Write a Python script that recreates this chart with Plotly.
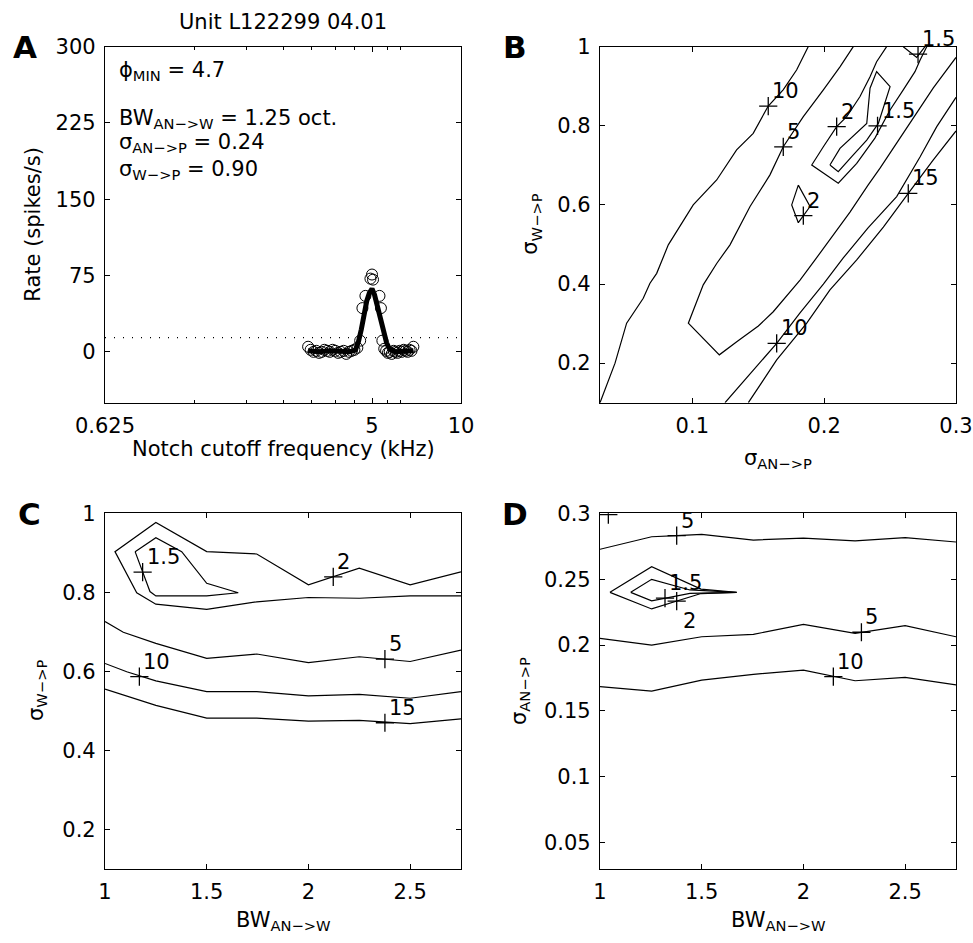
import math
import plotly.graph_objects as go

FONT = "DejaVu Sans"
FS = 21
W, H = 973, 943

# ---------------- Panel A: discharge rate vs notch cutoff frequency ----------------
freq_khz = [3.04, 3.10, 3.17, 3.24, 3.31, 3.38, 3.45, 3.53, 3.60, 3.68, 3.76, 3.84,
            3.92, 4.01, 4.09, 4.18, 4.27, 4.36, 4.46, 4.56, 4.64, 4.75, 4.94, 5.00,
            5.04, 5.30, 5.36, 5.42, 5.50, 5.58, 5.66, 5.74, 5.83, 5.92, 6.01, 6.10,
            6.20, 6.30, 6.40, 6.50, 6.60, 6.70, 6.80, 6.90]
rate_meas = [5, 2, 0, 1, -1, 0, 2, 1, 0, 2, 1, -1,
             0, 1, -2, 0, 1, 2, 4, 11, 43, 55, 72, 76,
             71, 55, 43, 11, 3, 1, -1, 0, -2, 1, 0, -1,
             1, 0, 2, 1, 0, 2, 1, 5]
fit_freq_khz = [3.04, 3.3, 3.6, 3.9, 4.2, 4.4, 4.5, 4.6, 4.7, 4.8, 4.9, 5.0,
                5.1, 5.2, 5.3, 5.4, 5.5, 5.6, 5.7, 5.8, 6.0, 6.3, 6.6, 6.9]
fit_rate = [1, 0, 1, 0, 0, 2, 10, 22, 38, 50, 58, 62,
            56, 46, 35, 24, 15, 9, 4, 2, 0, 0, 1, 1]
spont_rate = 14
freq_range = [0.625, 10]
freq_ticks = [0.625, 5, 10]
freq_minor_ticks = [1.25, 1.875, 2.5, 3.125, 3.75, 4.375, 5.625, 6.25]
rate_ticks = [0, 75, 150, 225, 300]

# ---------------- Panel B: error contours, sigma_AN->P vs sigma_W->P ----------------
b10a_x = [0.030, 0.0414, 0.0502, 0.0628, 0.0679, 0.0730, 0.0818, 0.1007, 0.1185,
          0.1336, 0.1462, 0.1576, 0.1689, 0.1791, 0.1879]
b10a_y = [0.100, 0.200, 0.301, 0.364, 0.402, 0.427, 0.499, 0.600, 0.663,
          0.739, 0.781, 0.850, 0.891, 0.941, 1.000]
b5_x = [0.2221, 0.2120, 0.1994, 0.1842, 0.1690, 0.1589, 0.1438, 0.1286, 0.1185,
        0.1083, 0.0970, 0.1205, 0.1337, 0.1501, 0.1614, 0.1817, 0.1931, 0.2095,
        0.2196, 0.2333, 0.2424, 0.2575, 0.2702, 0.2828, 0.3000]
b5_y = [1.000, 0.949, 0.891, 0.823, 0.747, 0.676, 0.596, 0.499, 0.452,
        0.398, 0.301, 0.221, 0.254, 0.294, 0.330, 0.410, 0.461, 0.537,
        0.582, 0.650, 0.693, 0.769, 0.832, 0.896, 0.973]
b10b_x = [0.1248, 0.1488, 0.1640, 0.1817, 0.1994, 0.2145, 0.2333, 0.2550, 0.2727,
          0.2854, 0.3000]
b10b_y = [0.100, 0.191, 0.250, 0.327, 0.400, 0.466, 0.542, 0.621, 0.721,
          0.798, 0.872]
b15_x = [0.1425, 0.1640, 0.1868, 0.2044, 0.2247, 0.2449, 0.2638, 0.2828, 0.3000]
b15_y = [0.100, 0.208, 0.301, 0.385, 0.461, 0.544, 0.629, 0.714, 0.787]
b2a_x = [0.2474, 0.2398, 0.2348, 0.2272, 0.2171, 0.2095, 0.1994, 0.1906, 0.2107,
         0.2247, 0.2385, 0.2500, 0.2600, 0.2689, 0.2727, 0.2778]
b2a_y = [1.000, 0.962, 0.924, 0.874, 0.823, 0.798, 0.747, 0.701, 0.655,
         0.705, 0.769, 0.840, 0.891, 0.937, 0.966, 1.000]
b2b_x = [0.1804, 0.1754, 0.1804, 0.1893, 0.1804]
b2b_y = [0.650, 0.600, 0.555, 0.596, 0.650]
b15a_x = [0.2044, 0.2107, 0.2209, 0.2323, 0.2411, 0.2500, 0.2398, 0.2348, 0.2323,
          0.2120, 0.2044]
b15a_y = [0.701, 0.684, 0.722, 0.764, 0.806, 0.899, 0.937, 0.895, 0.806,
          0.743, 0.701]
b15b_x = [0.2600, 0.2702, 0.2765]
b15b_y = [1.000, 0.973, 1.000]
b_label_text = ["10", "5", "2", "1.5", "2", "15", "10", "1.5"]
b_label_x = [0.1576, 0.1690, 0.2095, 0.2405, 0.1842, 0.2638, 0.1640, 0.2712]
b_label_y = [0.850, 0.747, 0.798, 0.800, 0.573, 0.629, 0.250, 0.981]

# ---------------- Panel C: error contours, BW_AN->W vs sigma_W->P ----------------
c2_x = [2.75, 2.5, 2.25, 2.0, 1.746, 1.5, 1.25, 1.049, 1.156, 1.25, 1.5, 1.746,
        2.0, 2.25, 2.5, 2.75]
c2_y = [0.852, 0.819, 0.861, 0.819, 0.897, 0.903, 0.977, 0.903, 0.799, 0.770,
        0.757, 0.776, 0.787, 0.785, 0.791, 0.791]
c15_x = [1.148, 1.25, 1.377, 1.5, 1.655, 1.5, 1.25, 1.221, 1.148]
c15_y = [0.903, 0.938, 0.903, 0.823, 0.799, 0.791, 0.791, 0.802, 0.903]
c5_x = [1.0, 1.09, 1.25, 1.5, 1.746, 2.0, 2.25, 2.5, 2.75]
c5_y = [0.726, 0.699, 0.671, 0.633, 0.644, 0.622, 0.637, 0.625, 0.654]
c10_x = [1.0, 1.107, 1.25, 1.5, 1.746, 2.0, 2.25, 2.5, 2.75]
c10_y = [0.620, 0.599, 0.576, 0.549, 0.549, 0.538, 0.542, 0.532, 0.549]
c15b_x = [1.0, 1.25, 1.5, 1.746, 2.0, 2.25, 2.5, 2.75]
c15b_y = [0.555, 0.514, 0.482, 0.482, 0.474, 0.476, 0.468, 0.480]
c_label_text = ["1.5", "2", "5", "10", "15"]
c_label_x = [1.185, 2.122, 2.376, 1.169, 2.376]
c_label_y = [0.851, 0.839, 0.631, 0.587, 0.470]

# ---------------- Panel D: error contours, BW_AN->W vs sigma_AN->P ----------------
d5a_x = [1.0, 1.254, 1.377, 1.5, 1.754, 2.0, 2.254, 2.5, 2.75]
d5a_y = [0.2727, 0.2822, 0.2830, 0.2840, 0.2797, 0.2812, 0.2790, 0.2815, 0.2782]
d5b_x = [1.0, 1.254, 1.5, 1.754, 2.0, 2.254, 2.5, 2.75]
d5b_y = [0.2051, 0.2000, 0.2063, 0.2081, 0.2157, 0.2089, 0.2147, 0.2063]
d10_x = [1.0, 1.254, 1.5, 1.754, 2.0, 2.254, 2.5, 2.75]
d10_y = [0.1684, 0.1651, 0.1734, 0.1778, 0.1810, 0.1729, 0.1755, 0.1697]
d2_x = [1.049, 1.254, 1.4965, 1.672, 1.4965, 1.254, 1.049]
d2_y = [0.2400, 0.2594, 0.2425, 0.2400, 0.2391, 0.2274, 0.2400]
d15_x = [1.151, 1.254, 1.442, 1.672, 1.442, 1.254, 1.151]
d15_y = [0.2400, 0.2499, 0.2418, 0.2400, 0.2392, 0.2336, 0.2400]
d_label_text = ["5", "1.5", "5", "10", ""]
d_label_x = [1.377, 1.3195, 2.285, 2.147, 1.041]
d_label_y = [0.2830, 0.2356, 0.2097, 0.1760, 0.2990]
d_label2_x = [1.377]
d_label2_y = [0.2333]

# ---------------- layout geometry (pixels) ----------------
COL_X = [(105, 461), (600, 956)]
ROW_Y = [(46.7, 402.7), (513.3, 869)]


def px_x(p):
    return p / W


def px_y(p):
    return 1 - p / H


fig = go.Figure()

LINE = dict(color="black", width=1.2)
PLUS = dict(symbol="cross-thin-open", size=13, color="black",
            line=dict(color="black", width=1.3))


def add_lines(xs, ys, ax):
    fig.add_trace(go.Scatter(x=xs, y=ys, mode="lines", line=LINE,
                             xaxis="x" + ax, yaxis="y" + ax, showlegend=False,
                             hoverinfo="skip"))


def add_labels(xs, ys, texts, ax, dx=2, dy=1, anchor_y="bottom"):
    fig.add_trace(go.Scatter(x=xs, y=ys, mode="markers", marker=PLUS,
                             xaxis="x" + ax, yaxis="y" + ax, showlegend=False,
                             hoverinfo="skip"))
    for x, y, t in zip(xs, ys, texts):
        if not t:
            continue
        fig.add_annotation(x=x, y=y, xref="x" + ax, yref="y" + ax, text=t,
                           showarrow=False, xanchor="left", yanchor=anchor_y,
                           xshift=dx, yshift=dy,
                           font=dict(family=FONT, size=FS, color="black"))


# Panel A traces
fig.add_trace(go.Scatter(x=freq_range, y=[spont_rate, spont_rate], mode="lines",
                         line=dict(color="black", width=1.2, dash="1px,8px"),
                         xaxis="x", yaxis="y", showlegend=False, hoverinfo="skip"))
fig.add_trace(go.Scatter(x=freq_khz, y=rate_meas, mode="markers",
                         marker=dict(symbol="circle-open", size=11, color="black",
                                     line=dict(color="black", width=1)),
                         xaxis="x", yaxis="y", showlegend=False))
fig.add_trace(go.Scatter(x=fit_freq_khz, y=fit_rate, mode="lines",
                         line=dict(color="black", width=5),
                         xaxis="x", yaxis="y", showlegend=False))

# Panel B traces
for xs, ys in [(b10a_x, b10a_y), (b5_x, b5_y), (b10b_x, b10b_y), (b15_x, b15_y),
               (b2a_x, b2a_y), (b2b_x, b2b_y), (b15a_x, b15a_y), (b15b_x, b15b_y)]:
    add_lines(xs, ys, "2")
add_labels(b_label_x, b_label_y, b_label_text, "2")

# Panel C traces
for xs, ys in [(c2_x, c2_y), (c15_x, c15_y), (c5_x, c5_y), (c10_x, c10_y),
               (c15b_x, c15b_y)]:
    add_lines(xs, ys, "3")
add_labels(c_label_x, c_label_y, c_label_text, "3")

# Panel D traces
for xs, ys in [(d5a_x, d5a_y), (d5b_x, d5b_y), (d10_x, d10_y), (d2_x, d2_y),
               (d15_x, d15_y)]:
    add_lines(xs, ys, "4")
add_labels(d_label_x, d_label_y, d_label_text, "4")
add_labels(d_label2_x, d_label2_y, ["2"], "4", dx=4, dy=-6, anchor_y="top")


def axis(domain, anchor, **kw):
    d = dict(domain=domain, anchor=anchor, showline=True, linecolor="black",
             linewidth=1.2, mirror="ticks", ticks="inside", ticklen=5,
             tickwidth=1, tickcolor="black", showgrid=False, zeroline=False,
             automargin=False, ticklabelstandoff=4,
             tickfont=dict(family=FONT, size=FS, color="black"))
    d.update(kw)
    return d


xdomA = [px_x(COL_X[0][0]), px_x(COL_X[0][1])]
xdomB = [px_x(COL_X[1][0]), px_x(COL_X[1][1])]
ydomTop = [px_y(ROW_Y[0][1]), px_y(ROW_Y[0][0])]
ydomBot = [px_y(ROW_Y[1][1]), px_y(ROW_Y[1][0])]

fig.update_layout(
    template="none",
    width=W, height=H, margin=dict(l=0, r=0, t=0, b=0, autoexpand=False),
    paper_bgcolor="white", plot_bgcolor="white", showlegend=False,
    font=dict(family=FONT, size=FS, color="black"),
    xaxis=axis(xdomA, "y", type="log",
               range=[math.log10(freq_range[0]), math.log10(freq_range[1])],
               tickvals=freq_ticks, ticktext=["0.625", "5", "10"],
               minor=dict(tickvals=freq_minor_ticks, ticks="inside", ticklen=3,
                          tickcolor="black", tickwidth=1, showgrid=False)),
    yaxis=axis(ydomTop, "x", range=[-50, 300], tickvals=rate_ticks,
               ticktext=[str(v) for v in rate_ticks]),
    xaxis2=axis(xdomB, "y2", range=[0.03, 0.3], tickvals=[0.1, 0.2, 0.3],
                ticktext=["0.1", "0.2", "0.3"]),
    yaxis2=axis(ydomTop, "x2", range=[0.1, 1], tickvals=[0.2, 0.4, 0.6, 0.8, 1],
                ticktext=["0.2", "0.4", "0.6", "0.8", "1"]),
    xaxis3=axis(xdomA, "y3", range=[1, 2.75], tickvals=[1, 1.5, 2, 2.5],
                ticktext=["1", "1.5", "2", "2.5"]),
    yaxis3=axis(ydomBot, "x3", range=[0.1, 1], tickvals=[0.2, 0.4, 0.6, 0.8, 1],
                ticktext=["0.2", "0.4", "0.6", "0.8", "1"]),
    xaxis4=axis(xdomB, "y4", range=[1, 2.75], tickvals=[1, 1.5, 2, 2.5],
                ticktext=["1", "1.5", "2", "2.5"]),
    yaxis4=axis(ydomBot, "x4", range=[0.03, 0.3],
                tickvals=[0.05, 0.1, 0.15, 0.2, 0.25, 0.3],
                ticktext=["0.05", "0.1", "0.15", "0.2", "0.25", "0.3"]),
)


def text_px(x, y, t, size=FS, angle=0, xa="center", ya="middle", bold=False):
    fig.add_annotation(x=px_x(x), y=px_y(y), xref="paper", yref="paper", text=t,
                       showarrow=False, xanchor=xa, yanchor=ya, textangle=angle,
                       font=dict(family=FONT, size=size, color="black",
                                 weight="bold" if bold else "normal"))


# Titles, axis labels and panel letters
text_px(283, 22, "Unit L122299 04.01")
text_px(25, 47, "A", size=31, bold=True)
text_px(515, 47, "B", size=31, bold=True)
text_px(29, 514, "C", size=31, bold=True)
text_px(515, 514, "D", size=31, bold=True)

text_px(33, 224.7, "Rate (spikes/s)", angle=-90)
text_px(283, 449, "Notch cutoff frequency (kHz)")
text_px(778, 444, "σ<sub>AN−>P</sub>", ya="top")
text_px(531, 224.7, "σ<sub>W−>P</sub>", angle=-90)
text_px(37, 691, "σ<sub>W−>P</sub>", angle=-90)
text_px(283, 906, "BW<sub>AN−>W</sub>", ya="top")
text_px(520, 691, "σ<sub>AN−>P</sub>", angle=-90)
text_px(778, 906, "BW<sub>AN−>W</sub>", ya="top")

# Fitted parameter summary in panel A
text_px(117, 56, "ϕ<sub>MIN</sub> = 4.7", xa="left", ya="top")
text_px(117, 104, "BW<sub>AN−>W</sub> = 1.25 oct.", xa="left", ya="top")
text_px(117, 128, "σ<sub>AN−>P</sub> = 0.24", xa="left", ya="top")
text_px(117, 155, "σ<sub>W−>P</sub> = 0.90", xa="left", ya="top")

fig.write_html("out.html")
